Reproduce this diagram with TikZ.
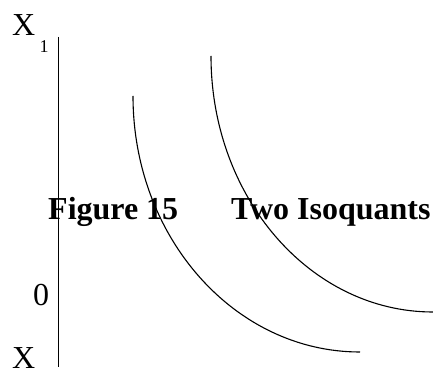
\documentclass[tikz,border=0pt]{standalone}
\usepackage{fontspec}
\setmainfont{Liberation Serif}
\usetikzlibrary{positioning}
\tikzset{isoq/.style={line width=1.1pt},
  axlab/.style={font=\fontsize{32}{32}\selectfont,inner sep=0pt,anchor=base west}}

\begin{document}
\begin{tikzpicture}[x=1pt,y=1pt]
  \useasboundingbox (0,0) rectangle (433,367);
  \coordinate (top) at (58.5,330);
  \coordinate (bot) at (58.5,0);
  \draw[line width=1.3pt] (top) -- (bot);
  \node[axlab] (xone) at (12,331) {X};
  \node[inner sep=0pt,anchor=base west,font=\fontsize{18}{18}\selectfont]
    (sub) at (xone.base east) [xshift=4pt,yshift=-17pt] {1};
  \node[axlab] (zero) at (33,62) {0};
  \node[axlab] (xtwo) at (12,-1) {X};
  % two isoquants, quarter ellipses
  \draw[isoq] (133,271) arc[start angle=180,end angle=270,x radius=227,y radius=256];
  \draw[isoq] (211,311) arc[start angle=180,end angle=270,x radius=222,y radius=256];
  \node[inner sep=0pt,anchor=base west,font=\bfseries\fontsize{32}{32}\selectfont]
    (title) at (48,148) {Figure 15\hspace{1.4em} Two Isoquants};
\end{tikzpicture}
\end{document}
